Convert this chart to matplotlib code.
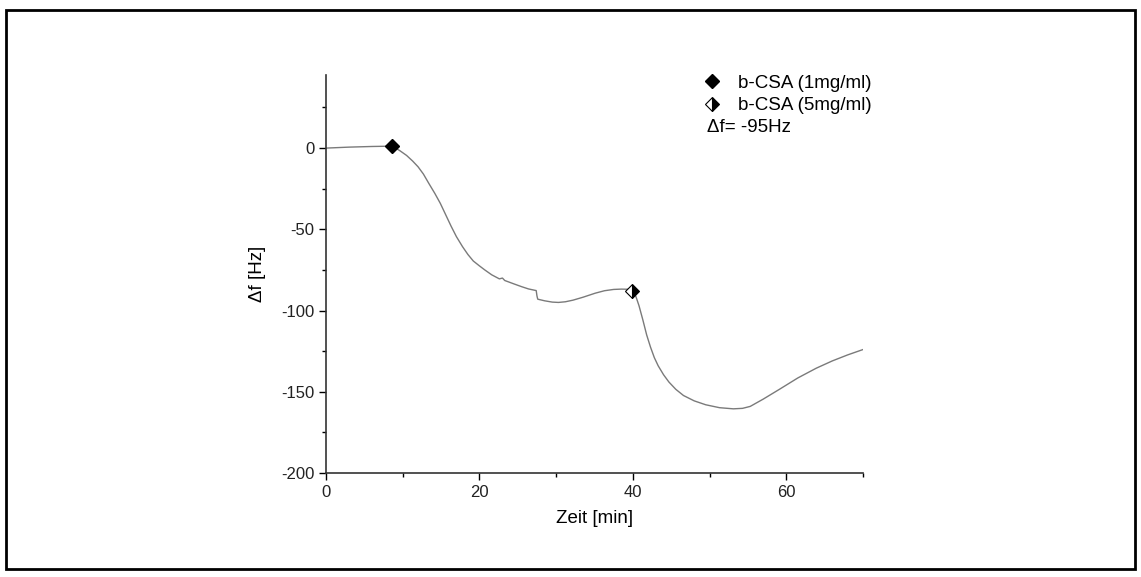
import numpy as np
import matplotlib.pyplot as plt
from matplotlib.lines import Line2D
from matplotlib.patches import Rectangle
from matplotlib.ticker import MultipleLocator

plt.rcParams['font.family'] = ['Liberation Sans', 'DejaVu Sans']
plt.rcParams['axes.unicode_minus'] = False

# QCM frequency shift vs. time
zeit = [0, 3, 6, 8.65, 9.6, 10.5, 11.3, 12.0, 12.7, 13.4, 14.2, 14.9, 15.6, 16.3,
        17.0, 17.8, 18.5, 19.2, 20.0, 20.7, 21.6, 22.6, 23.0, 23.3, 24.5, 25.5,
        26.4, 27.4, 27.5, 27.6, 28.5, 29.5, 30.3, 31.2, 32.2, 33.5, 35.1, 36.3,
        37.5, 38.5, 39.4, 39.9, 40.4, 40.8, 41.3, 41.8, 42.3, 42.8, 43.3, 44.0,
        44.7, 45.6, 46.6, 48.0, 49.5, 51.3, 53.1, 54.3, 55.3, 57.0, 59.1, 61.5,
        63.9, 66.0, 68.0, 70.0]
df = [0, 0.6, 1.0, 1.2, -1.5, -4.5, -8.0, -11.5, -16.0, -21.7, -28.0, -34.0, -41.0, -48.0,
      -54.5, -60.7, -65.5, -69.5, -72.5, -75.0, -78.0, -80.5, -80.0, -81.5, -83.6, -85.3,
      -86.7, -87.7, -91.0, -93.0, -94.0, -94.8, -95.0, -94.6, -93.6, -91.8, -89.3, -87.8,
      -87.0, -86.8, -86.9, -87.7, -91.4, -97.0, -105.7, -115.0, -122.5, -129.0, -134.0, -139.5,
      -144.0, -148.5, -152.3, -155.6, -158.0, -159.8, -160.5, -160.2, -159.0, -154.5, -148.5, -141.5,
      -135.5, -131.0, -127.3, -124.0]

# injection points
inj1_t, inj1_f = 8.65, 1.2
inj2_t, inj2_f = 39.9, -87.7

fig = plt.figure(figsize=(11.41, 5.77), dpi=100)
ax = fig.add_axes([326 / 1141, 1 - 473 / 577, (863 - 326) / 1141, (473 - 75) / 577])

ax.plot(zeit, df, color='#7a7a7a', lw=1.0)
ax.plot([inj1_t], [inj1_f], marker='D', ms=7, color='black', ls='none')
ax.plot([inj2_t], [inj2_f], marker='D', ms=7, color='black', ls='none',
        fillstyle='right', markerfacecoloralt='white', markeredgewidth=0.8)

ax.set_xlim(0, 70)
ax.set_ylim(-200, 45)
ax.xaxis.set_major_locator(MultipleLocator(20))
ax.xaxis.set_minor_locator(MultipleLocator(10))
ax.yaxis.set_major_locator(MultipleLocator(50))
ax.yaxis.set_minor_locator(MultipleLocator(25))
ax.tick_params(which='major', direction='out', length=5, width=1, labelsize=12,
               labelcolor='#222222')
ax.tick_params(which='minor', direction='out', length=3, width=1)

for s in ['top', 'right']:
    ax.spines[s].set_visible(False)
for s in ['left', 'bottom']:
    ax.spines[s].set_linewidth(1.2)
    ax.spines[s].set_color('#333333')

ax.set_xlabel('Zeit [min]', fontsize=13.5, labelpad=7)
ax.set_ylabel('Δf [Hz]', fontsize=13.5, labelpad=11)

handles = [
    Line2D([], [], marker='D', ms=7.5, color='black', ls='none'),
    Line2D([], [], marker='D', ms=7.5, color='black', ls='none',
           fillstyle='right', markerfacecoloralt='white', markeredgewidth=0.8),
]
ax.legend(handles, ['b-CSA (1mg/ml)', 'b-CSA (5mg/ml)'], loc='upper left',
          bbox_to_anchor=(0.684, 1.025), frameon=False, fontsize=13.5,
          handletextpad=0.9, labelspacing=0.3, borderpad=0.0, handlelength=1.0)
ax.text(0.709, 0.867, 'Δf= -95Hz', transform=ax.transAxes, fontsize=13.5,
        va='center', ha='left')

# frame around the whole figure
fig.patches.append(Rectangle((6 / 1141, 1 - 569 / 577), (1135 - 6) / 1141,
                             (569 - 10) / 577, transform=fig.transFigure,
                             fill=False, edgecolor='black', lw=2))

fig.savefig('out.png', dpi=100)
